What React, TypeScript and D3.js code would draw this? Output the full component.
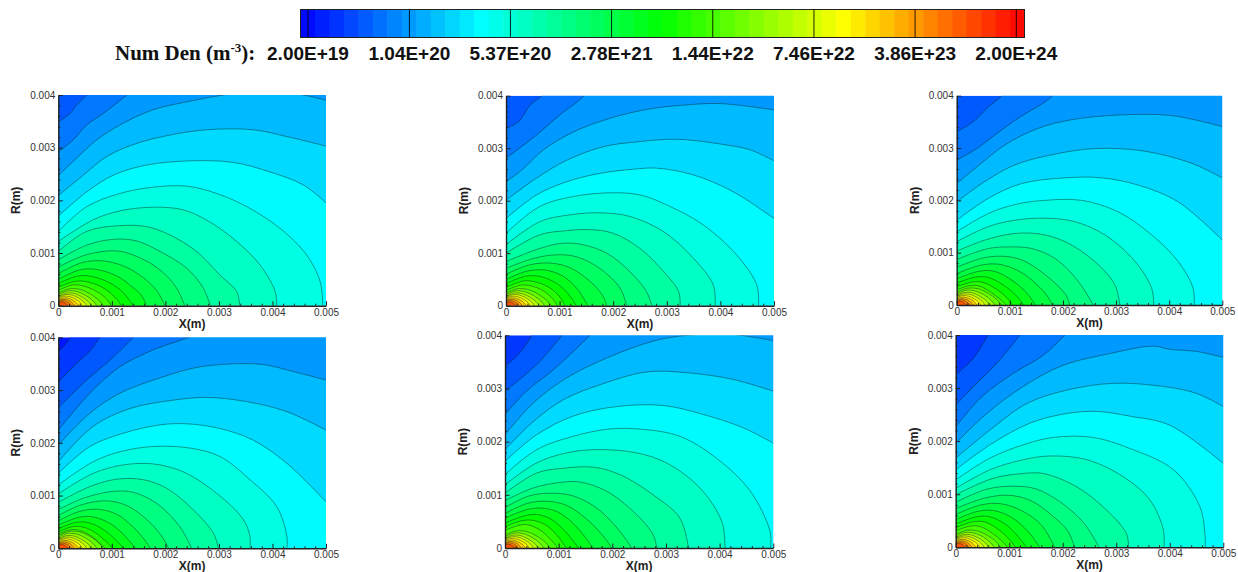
import React, { useEffect, useRef } from "react";
import * as d3 from "d3";

type Pt = [number, number];

// colour bar labels (m^-3)
const barLabels = ["2.00E+19", "1.04E+20", "5.37E+20", "2.78E+21", "1.44E+22", "7.46E+22", "3.86E+23", "2.00E+24"];
const barBandCount = 50;

const xTicks = [0, 0.001, 0.002, 0.003, 0.004, 0.005];
const yTicks = [0, 0.001, 0.002, 0.003, 0.004];
const xMinorTicks = [0.0002, 0.0004, 0.0006, 0.0008, 0.0012, 0.0014, 0.0016, 0.0018, 0.0022, 0.0024, 0.0026, 0.0028, 0.0032, 0.0034, 0.0036, 0.0038, 0.0042, 0.0044, 0.0046, 0.0048];
const yMinorTicks = [0.0002, 0.0004, 0.0006, 0.0008, 0.0012, 0.0014, 0.0016, 0.0018, 0.0022, 0.0024, 0.0026, 0.0028, 0.0032, 0.0034, 0.0036, 0.0038];

// position on the colour bar of each filled band, low to high
const bandLevels = [0.0, 0.022, 0.054, 0.086, 0.118, 0.15, 0.182, 0.214, 0.246, 0.278, 0.31, 0.342, 0.374, 0.406, 0.438, 0.47, 0.502, 0.534, 0.566, 0.598, 0.64, 0.68, 0.72, 0.76, 0.8, 0.84, 0.88, 0.92];

// contour lines, x and r in mm, low level to high level
const panel1: Pt[][] = [
  [[0, 3.49], [0.22, 3.65], [0.34, 3.81], [0.53, 4.0], [0.65, 4.2]],
  [[0, 2.92], [0.28, 3.15], [0.53, 3.43], [0.84, 3.65], [1.28, 4.0], [1.5, 4.2]],
  [[0, 2.47], [0.34, 2.8], [0.72, 3.15], [1.15, 3.43], [1.77, 3.72], [2.4, 3.87], [3.08, 4.0], [3.83, 4.09], [4.58, 4.0], [5, 3.9]],
  [[0, 2.09], [0.47, 2.48], [0.9, 2.83], [1.46, 3.08], [2.09, 3.24], [2.77, 3.34], [3.64, 3.34], [4.27, 3.21], [5, 3.03]],
  [[0, 1.7], [0.53, 2.16], [1.03, 2.48], [1.65, 2.67], [2.46, 2.75], [3.27, 2.72], [3.95, 2.54], [4.58, 2.29], [5, 1.95]],
  [[0, 1.41], [0.53, 1.88], [1.15, 2.13], [1.77, 2.25], [2.4, 2.27], [2.96, 2.13], [3.52, 1.88], [4.14, 1.47], [4.64, 0.96], [4.89, 0.46], [4.94, 0]],
  [[0, 1.22], [0.65, 1.63], [1.15, 1.8], [1.77, 1.87], [2.33, 1.82], [2.83, 1.59], [3.33, 1.22], [3.77, 0.77], [4.05, 0.27], [4.08, 0]],
  [[0, 1.03], [0.53, 1.41], [1.15, 1.52], [1.65, 1.5], [2.09, 1.34], [2.58, 1.03], [3.02, 0.58], [3.33, 0.27], [3.39, 0]],
  [[0, 0.87], [0.53, 1.15], [1.03, 1.26], [1.46, 1.23], [1.9, 1.03], [2.4, 0.71], [2.71, 0.33], [2.84, 0]],
  [[0, 0.73], [0.5, 0.96], [1.09, 1.04], [1.5, 0.92], [1.9, 0.68], [2.2, 0.35], [2.36, 0]],
  [[0, 0.61], [0.45, 0.82], [0.84, 0.85], [1.25, 0.74], [1.6, 0.52], [1.85, 0.27], [1.99, 0]],
  [[0, 0.5], [0.4, 0.68], [0.7, 0.69], [1.1, 0.56], [1.4, 0.34], [1.55, 0.2], [1.65, 0]],
  [[0, 0.42], [0.35, 0.56], [0.6, 0.56], [0.95, 0.44], [1.2, 0.26], [1.4, 0]],
  [[0, 0.35], [0.3, 0.46], [0.5, 0.46], [0.8, 0.36], [1.05, 0.17], [1.18, 0]],
  [[0, 0.29], [0.25, 0.39], [0.45, 0.38], [0.7, 0.28], [0.9, 0.13], [0.99, 0]],
];

const panel2: Pt[][] = [
  [[0, 3.38], [0.23, 3.5], [0.45, 3.82], [0.67, 4.0], [0.85, 4.2]],
  [[0, 2.81], [0.29, 3.03], [0.57, 3.25], [1.0, 3.63], [1.44, 3.98], [1.6, 4.2]],
  [[0, 2.36], [0.29, 2.58], [0.7, 2.97], [1.26, 3.31], [1.94, 3.57], [2.69, 3.75], [3.31, 3.82], [3.99, 3.85], [5, 3.73]],
  [[0, 2.01], [0.57, 2.43], [1.13, 2.77], [1.82, 3.03], [2.44, 3.12], [3.18, 3.17], [3.93, 3.09], [4.55, 2.97], [5, 2.76]],
  [[0, 1.66], [0.57, 2.11], [1.13, 2.36], [1.75, 2.52], [2.38, 2.6], [2.81, 2.62], [3.5, 2.49], [4.24, 2.17], [5, 1.66]],
  [[0, 1.38], [0.63, 1.89], [1.26, 2.08], [1.94, 2.15], [2.5, 2.11], [3.06, 1.89], [3.68, 1.54], [4.3, 0.97], [4.68, 0.39], [4.71, 0]],
  [[0, 1.16], [0.63, 1.6], [1.19, 1.73], [1.75, 1.77], [2.31, 1.7], [2.94, 1.41], [3.5, 0.9], [3.87, 0.39], [3.9, 0]],
  [[0, 1.0], [0.63, 1.35], [1.13, 1.43], [1.54, 1.45], [2.0, 1.38], [2.5, 1.09], [2.94, 0.65], [3.22, 0.27], [3.25, 0]],
  [[0, 0.84], [0.63, 1.09], [1.07, 1.19], [1.44, 1.16], [1.88, 1.0], [2.31, 0.65], [2.62, 0.27], [2.72, 0]],
  [[0, 0.71], [0.51, 0.9], [0.95, 0.97], [1.32, 0.93], [1.75, 0.71], [2.13, 0.33], [2.25, 0]],
  [[0, 0.6], [0.45, 0.78], [0.85, 0.81], [1.2, 0.72], [1.55, 0.48], [1.8, 0.2], [1.88, 0]],
  [[0, 0.5], [0.4, 0.66], [0.72, 0.68], [1.05, 0.57], [1.32, 0.33], [1.53, 0]],
  [[0, 0.42], [0.36, 0.56], [0.62, 0.56], [0.92, 0.44], [1.15, 0.24], [1.31, 0]],
  [[0, 0.35], [0.32, 0.47], [0.52, 0.46], [0.8, 0.35], [1.0, 0.17], [1.1, 0]],
  [[0, 0.29], [0.27, 0.39], [0.46, 0.38], [0.7, 0.28], [0.88, 0.12], [0.96, 0]],
];

const panel3: Pt[][] = [
  [[0, 3.31], [0.31, 3.5], [0.6, 3.79], [0.85, 4.0], [1.0, 4.2]],
  [[0, 2.77], [0.38, 2.99], [0.72, 3.25], [1.16, 3.57], [1.79, 3.98], [1.95, 4.2]],
  [[0, 2.32], [0.38, 2.64], [0.91, 3.06], [1.54, 3.38], [2.16, 3.54], [3.04, 3.63], [4.05, 3.62], [5, 3.41]],
  [[0, 1.97], [0.53, 2.36], [1.1, 2.68], [1.79, 2.87], [2.6, 2.99], [3.54, 2.94], [4.42, 2.71], [5, 2.43]],
  [[0, 1.62], [0.6, 2.04], [1.22, 2.32], [2.04, 2.43], [2.73, 2.43], [3.42, 2.29], [4.17, 1.97], [5, 1.24]],
  [[0, 1.4], [0.6, 1.75], [1.1, 1.92], [1.66, 2.0], [2.35, 2.0], [3.04, 1.78], [3.67, 1.34], [4.17, 0.83], [4.45, 0.32], [4.47, 0]],
  [[0, 1.21], [0.6, 1.5], [1.1, 1.62], [1.66, 1.66], [2.23, 1.59], [2.79, 1.34], [3.36, 0.83], [3.67, 0.32], [3.71, 0]],
  [[0, 1.03], [0.53, 1.24], [1.04, 1.36], [1.54, 1.36], [2.04, 1.21], [2.6, 0.83], [2.98, 0.38], [3.07, 0]],
  [[0, 0.87], [0.6, 1.08], [1.04, 1.11], [1.41, 1.08], [1.85, 0.89], [2.29, 0.45], [2.57, 0]],
  [[0, 0.72], [0.5, 0.9], [0.9, 0.93], [1.25, 0.85], [1.7, 0.55], [2.05, 0.2], [2.13, 0]],
  [[0, 0.6], [0.45, 0.76], [0.78, 0.78], [1.15, 0.66], [1.5, 0.4], [1.72, 0.15], [1.8, 0]],
  [[0, 0.5], [0.4, 0.64], [0.68, 0.65], [1.0, 0.5], [1.3, 0.25], [1.48, 0]],
  [[0, 0.42], [0.34, 0.53], [0.58, 0.53], [0.85, 0.4], [1.1, 0.2], [1.26, 0]],
  [[0, 0.35], [0.3, 0.44], [0.5, 0.43], [0.75, 0.3], [0.95, 0.13], [1.05, 0]],
  [[0, 0.29], [0.25, 0.37], [0.43, 0.36], [0.65, 0.24], [0.85, 0.08], [0.93, 0]],
];

const panel4: Pt[][] = [
  [[0, 3.72], [0.16, 3.9], [0.25, 4.05], [0.3, 4.2]],
  [[0, 3.16], [0.34, 3.5], [0.6, 3.75], [0.78, 4.0], [0.95, 4.2]],
  [[0, 2.66], [0.53, 3.19], [0.97, 3.57], [1.4, 4.0], [1.55, 4.2]],
  [[0, 2.24], [0.59, 2.94], [1.15, 3.44], [1.77, 3.76], [2.39, 3.98], [3.5, 4.4], [5, 4.4]],
  [[0, 1.96], [0.59, 2.56], [1.15, 2.94], [1.96, 3.25], [2.65, 3.44], [3.77, 3.49], [4.39, 3.35], [5, 3.19]],
  [[0, 1.64], [0.65, 2.31], [1.34, 2.65], [2.09, 2.8], [2.77, 2.86], [3.52, 2.78], [4.27, 2.59], [5, 2.24]],
  [[0, 1.42], [0.59, 1.93], [1.21, 2.18], [1.9, 2.34], [2.4, 2.36], [3.02, 2.27], [3.64, 2.05], [4.27, 1.61], [5, 0.88]],
  [[0, 1.2], [0.65, 1.64], [1.15, 1.83], [1.77, 1.93], [2.46, 1.9], [3.02, 1.74], [3.58, 1.3], [4.08, 0.79], [4.27, 0.22], [4.27, 0]],
  [[0, 1.03], [0.65, 1.42], [1.21, 1.58], [1.77, 1.6], [2.33, 1.45], [2.96, 1.04], [3.46, 0.54], [3.58, 0.22], [3.58, 0]],
  [[0, 0.87], [0.59, 1.17], [1.09, 1.31], [1.59, 1.3], [2.02, 1.14], [2.52, 0.73], [2.9, 0.28], [2.99, 0]],
  [[0, 0.73], [0.47, 0.95], [1.03, 1.08], [1.4, 1.06], [1.84, 0.85], [2.27, 0.41], [2.49, 0]],
  [[0, 0.62], [0.42, 0.82], [0.9, 0.9], [1.3, 0.8], [1.7, 0.5], [1.95, 0.2], [2.06, 0]],
  [[0, 0.52], [0.4, 0.7], [0.75, 0.74], [1.1, 0.64], [1.4, 0.4], [1.62, 0.15], [1.72, 0]],
  [[0, 0.44], [0.36, 0.58], [0.62, 0.6], [0.95, 0.48], [1.2, 0.28], [1.44, 0]],
  [[0, 0.37], [0.32, 0.49], [0.55, 0.49], [0.82, 0.37], [1.05, 0.18], [1.22, 0]],
  [[0, 0.31], [0.27, 0.41], [0.47, 0.4], [0.7, 0.29], [0.92, 0.1], [1.02, 0]],
  [[0, 0.27], [0.22, 0.35], [0.4, 0.34], [0.62, 0.23], [0.8, 0.07], [0.88, 0]],
];

const panel5: Pt[][] = [
  [[0, 3.42], [0.25, 3.64], [0.5, 4.0], [0.6, 4.2]],
  [[0, 2.95], [0.31, 3.2], [0.65, 3.51], [1.06, 4.0], [1.2, 4.2]],
  [[0, 2.51], [0.4, 2.95], [0.9, 3.35], [1.58, 4.0], [1.75, 4.2]],
  [[0, 2.13], [0.53, 2.73], [1.15, 3.2], [1.96, 3.6], [2.76, 3.89], [3.39, 4.0], [4.2, 4.02], [5, 3.9]],
  [[0, 1.85], [0.53, 2.38], [1.09, 2.79], [1.77, 3.07], [2.64, 3.31], [3.45, 3.29], [4.25, 3.17], [5, 2.95]],
  [[0, 1.63], [0.59, 2.13], [1.27, 2.48], [2.08, 2.66], [2.95, 2.68], [3.7, 2.51], [4.44, 2.26], [5, 1.97]],
  [[0, 1.38], [0.59, 1.85], [1.27, 2.1], [1.96, 2.24], [2.58, 2.23], [3.26, 2.1], [3.94, 1.69], [4.57, 1.07], [4.94, 0.31], [4.95, 0]],
  [[0, 1.19], [0.59, 1.6], [1.15, 1.79], [1.71, 1.85], [2.45, 1.79], [3.01, 1.6], [3.63, 1.13], [4.04, 0.5], [4.1, 0]],
  [[0, 1.03], [0.59, 1.41], [1.09, 1.5], [1.65, 1.52], [2.14, 1.38], [2.76, 1.0], [3.26, 0.56], [3.42, 0]],
  [[0, 0.89], [0.53, 1.13], [1.09, 1.24], [1.4, 1.24], [1.89, 1.07], [2.45, 0.63], [2.76, 0.25], [2.83, 0]],
  [[0, 0.76], [0.45, 0.98], [0.9, 1.03], [1.3, 0.97], [1.75, 0.72], [2.15, 0.3], [2.36, 0]],
  [[0, 0.65], [0.42, 0.84], [0.78, 0.88], [1.15, 0.8], [1.55, 0.52], [1.85, 0.2], [1.99, 0]],
  [[0, 0.56], [0.4, 0.72], [0.68, 0.75], [1.0, 0.67], [1.35, 0.38], [1.64, 0]],
  [[0, 0.47], [0.35, 0.6], [0.6, 0.63], [0.88, 0.53], [1.15, 0.28], [1.37, 0]],
  [[0, 0.4], [0.3, 0.51], [0.52, 0.52], [0.78, 0.42], [1.0, 0.2], [1.14, 0]],
  [[0, 0.33], [0.27, 0.43], [0.45, 0.43], [0.68, 0.32], [0.88, 0.13], [0.98, 0]],
];

const panel6: Pt[][] = [
  [[0, 3.25], [0.33, 3.56], [0.61, 4.0], [0.75, 4.2]],
  [[0, 2.68], [0.33, 3.03], [0.77, 3.47], [1.2, 4.0], [1.35, 4.2]],
  [[0, 2.27], [0.49, 2.84], [1.08, 3.28], [1.64, 3.62], [2.04, 4.0], [2.25, 4.2]],
  [[0, 1.96], [0.58, 2.52], [1.26, 3.03], [2.01, 3.43], [2.88, 3.65], [3.69, 3.79], [4.0, 3.73], [4.5, 3.69], [5, 3.58]],
  [[0, 1.68], [0.64, 2.21], [1.33, 2.71], [2.07, 2.96], [2.95, 3.09], [3.88, 3.03], [4.5, 2.9], [5, 2.65]],
  [[0, 1.46], [0.64, 1.93], [1.39, 2.34], [2.07, 2.52], [2.63, 2.56], [3.26, 2.47], [4.0, 2.3], [5, 1.58]],
  [[0, 1.27], [0.64, 1.68], [1.26, 1.93], [1.82, 2.07], [2.57, 2.07], [3.26, 1.86], [4.07, 1.46], [4.56, 0.77], [4.66, 0.2], [4.66, 0]],
  [[0, 1.11], [0.64, 1.46], [1.26, 1.65], [1.76, 1.72], [2.45, 1.65], [3.13, 1.33], [3.63, 0.89], [3.88, 0.33], [3.89, 0]],
  [[0, 0.99], [0.7, 1.3], [1.26, 1.39], [1.64, 1.39], [2.26, 1.14], [2.82, 0.7], [3.19, 0.26], [3.23, 0]],
  [[0, 0.85], [0.6, 1.1], [1.1, 1.15], [1.5, 1.1], [2.0, 0.82], [2.4, 0.45], [2.68, 0]],
  [[0, 0.73], [0.55, 0.93], [1.0, 0.98], [1.4, 0.88], [1.8, 0.6], [2.1, 0.3], [2.22, 0]],
  [[0, 0.62], [0.48, 0.8], [0.85, 0.82], [1.25, 0.68], [1.6, 0.42], [1.85, 0]],
  [[0, 0.52], [0.42, 0.68], [0.72, 0.69], [1.05, 0.56], [1.35, 0.3], [1.57, 0]],
  [[0, 0.44], [0.37, 0.57], [0.62, 0.58], [0.92, 0.44], [1.15, 0.22], [1.32, 0]],
  [[0, 0.37], [0.32, 0.48], [0.53, 0.48], [0.78, 0.35], [1.0, 0.15], [1.12, 0]],
  [[0, 0.31], [0.27, 0.4], [0.46, 0.39], [0.68, 0.27], [0.88, 0.1], [0.97, 0]],
];

// the tight rings round the origin look the same in all six plots
const coreContours: Pt[][] = [
  [[0, 0.24], [0.2, 0.32], [0.4, 0.31], [0.6, 0.22], [0.76, 0.1], [0.84, 0]],
  [[0, 0.21], [0.17, 0.28], [0.34, 0.27], [0.52, 0.19], [0.65, 0.09], [0.72, 0]],
  [[0, 0.18], [0.15, 0.24], [0.3, 0.23], [0.45, 0.16], [0.56, 0.08], [0.62, 0]],
  [[0, 0.16], [0.13, 0.21], [0.26, 0.2], [0.39, 0.14], [0.48, 0.07], [0.53, 0]],
  [[0, 0.14], [0.11, 0.18], [0.22, 0.17], [0.33, 0.12], [0.41, 0.06], [0.45, 0]],
  [[0, 0.12], [0.1, 0.15], [0.19, 0.14], [0.28, 0.1], [0.34, 0.05], [0.38, 0]],
  [[0, 0.1], [0.08, 0.12], [0.16, 0.115], [0.23, 0.08], [0.31, 0]],
  [[0, 0.08], [0.07, 0.1], [0.13, 0.09], [0.19, 0.06], [0.25, 0]],
  [[0, 0.06], [0.05, 0.07], [0.1, 0.065], [0.19, 0]],
];

const panels = [
  { lines: panel1, left: 58.3, right: 326, top: 95, bottom: 305.7 },
  { lines: panel2, left: 506, right: 774, top: 95.7, bottom: 305.7 },
  { lines: panel3, left: 956.7, right: 1222.3, top: 95.7, bottom: 305 },
  { lines: panel4, left: 58.3, right: 326, top: 337.3, bottom: 548.3 },
  { lines: panel5, left: 505, right: 773.3, top: 335.3, bottom: 548 },
  { lines: panel6, left: 955.7, right: 1223.3, top: 335, bottom: 547.3 },
];

// rainbow of the colour bar
const rainbow = d3
  .scaleLinear<string>()
  .domain([0, 0.25, 0.5, 0.75, 1])
  .range(["#0000ff", "#00ffff", "#00ff00", "#ffff00", "#ff0000"]);

const barX = d3.scaleLinear().domain([0, barBandCount]).range([300.5, 1024.5]);
const barTicks = d3.scaleLog().domain([2e19, 2e24]).range([308, 1016.3]);

const ContourPanel = ({ index, lines, left, right, top, bottom }) => {
  const ref = useRef(null);

  useEffect(() => {
    const g = d3.select(ref.current);
    g.selectAll("*").remove();

    const x = d3.scaleLinear().domain([0, 0.005]).range([left, right]);
    const y = d3.scaleLinear().domain([0, 0.004]).range([bottom, top]);

    const contour = d3
      .line<Pt>()
      .x((d) => x(d[0] / 1000))
      .y((d) => y(d[1] / 1000))
      .curve(d3.curveCatmullRom);

    const all = [...lines, ...coreContours];
    const first = bandLevels.length - 1 - all.length;
    const clipId = `plot-clip-${index}`;

    g.append("clipPath")
      .attr("id", clipId)
      .append("rect")
      .attr("x", left)
      .attr("y", top)
      .attr("width", right - left)
      .attr("height", bottom - top);

    const plot = g.append("g").attr("clip-path", `url(#${clipId})`).attr("filter", "url(#soft)");

    plot
      .append("rect")
      .attr("x", left)
      .attr("y", top)
      .attr("width", right - left)
      .attr("height", bottom - top)
      .attr("fill", rainbow(bandLevels[first]));

    // painter style: each contour fills everything on its high side
    all.forEach((pts, i) => {
      const last = pts[pts.length - 1];
      plot
        .append("path")
        .attr("d", `${contour(pts)}L${x(0.005)},${y(last[1] / 1000)}L${x(0.005)},${y(0)}L${x(0)},${y(0)}Z`)
        .attr("fill", rainbow(bandLevels[first + i + 1]));
    });
    all.forEach((pts) => {
      plot
        .append("path")
        .attr("d", contour(pts))
        .attr("fill", "none")
        .attr("stroke", "#10261e")
        .attr("stroke-opacity", 0.7)
        .attr("stroke-width", 0.65);
    });

    const styleAxis = (sel) => {
      sel.select(".domain").attr("stroke", "#222").attr("stroke-width", 1.4);
      sel.selectAll("line").attr("stroke", "#222").attr("stroke-width", 1);
      sel.selectAll("text").attr("fill", "#333").style("font-family", "'Liberation Sans'").style("font-size", "10px");
    };

    const bottomAxis = g.append("g").attr("transform", `translate(0,${bottom})`);
    bottomAxis.call(d3.axisBottom(x).tickValues(xTicks).tickFormat((d) => String(d)).tickSize(-4.5).tickSizeOuter(0).tickPadding(3));
    styleAxis(bottomAxis);
    g.append("g")
      .attr("transform", `translate(0,${bottom})`)
      .call(d3.axisBottom(x).tickValues(xMinorTicks).tickFormat(() => "").tickSize(-2).tickSizeOuter(0))
      .call(styleAxis)
      .select(".domain")
      .remove();

    const leftAxis = g.append("g").attr("transform", `translate(${left},0)`);
    leftAxis.call(d3.axisLeft(y).tickValues(yTicks).tickFormat((d) => String(d)).tickSize(-4.5).tickSizeOuter(0).tickPadding(3));
    styleAxis(leftAxis);
    g.append("g")
      .attr("transform", `translate(${left},0)`)
      .call(d3.axisLeft(y).tickValues(yMinorTicks).tickFormat(() => "").tickSize(-2).tickSizeOuter(0))
      .call(styleAxis)
      .select(".domain")
      .remove();

    // axis titles
    g.append("text")
      .attr("x", (left + right) / 2)
      .attr("y", bottom + 22)
      .attr("text-anchor", "middle")
      .style("font-family", "'Liberation Sans'")
      .style("font-size", "12px")
      .style("font-weight", "bold")
      .attr("fill", "#222")
      .text("X(m)");
    g.append("text")
      .attr("transform", `translate(${left - 38},${(top + bottom) / 2}) rotate(-90)`)
      .attr("text-anchor", "middle")
      .style("font-family", "'Liberation Sans'")
      .style("font-size", "12px")
      .style("font-weight", "bold")
      .attr("fill", "#222")
      .text("R(m)");
  }, [index, lines, left, right, top, bottom]);

  return <g ref={ref}></g>;
};

export default function App() {
  return (
    <svg width={1238} height={572} style={{ position: "absolute", left: 0, top: 0, background: "#fff" }}>
      <defs>
        <filter id="soft" x="-2%" y="-2%" width="104%" height="104%">
          <feGaussianBlur stdDeviation="0.35" />
        </filter>
      </defs>

      {/* colour bar */}
      {d3.range(barBandCount).map((i) => (
        <rect
          key={i}
          x={barX(i)}
          y={9.5}
          width={barX(i + 1) - barX(i) + 0.5}
          height={28}
          fill={rainbow((i + 0.5) / barBandCount)}
        />
      ))}
      <rect x={300.5} y={9.5} width={724} height={28} fill="none" stroke="#222" strokeWidth={1} />
      {barLabels.map((label) => (
        <g key={label}>
          <line x1={barTicks(+label)} x2={barTicks(+label)} y1={9.5} y2={37.5} stroke="#000" strokeOpacity={0.85} strokeWidth={1} />
          <text
            x={barTicks(+label)}
            y={60}
            textAnchor="middle"
            fontFamily="'Liberation Sans'"
            fontWeight="bold"
            fontSize={19}
            fill="#111"
          >
            {label}
          </text>
        </g>
      ))}
      <text x={115} y={60} fontFamily="'Liberation Serif'" fontWeight="bold" fontSize={21} fill="#111">
        Num Den (m
        <tspan dy={-8} fontSize={13}>-3</tspan>
        <tspan dy={8}>):</tspan>
      </text>

      {panels.map((p, i) => (
        <ContourPanel key={i} index={i} lines={p.lines} left={p.left} right={p.right} top={p.top} bottom={p.bottom} />
      ))}
    </svg>
  );
}
